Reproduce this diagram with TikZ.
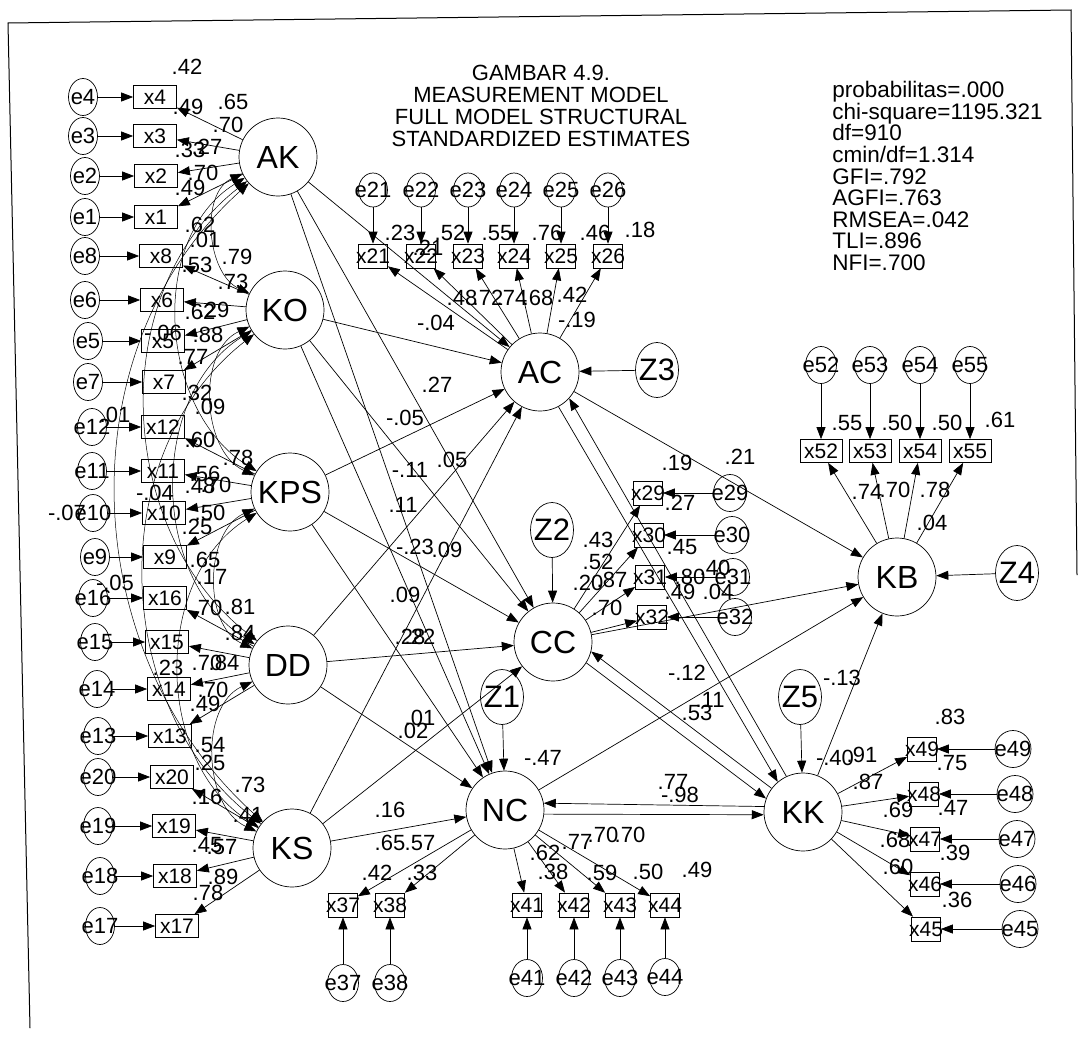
\documentclass[tikz,border=0pt]{standalone}
\usepackage{fontspec}
\setmainfont{Liberation Sans}
\usetikzlibrary{arrows.meta,shapes.geometric}
\newcommand{\ctr}[1]{\makebox[0pt]{#1}}
\newcommand{\fs}[1]{\fontsize{#1}{#1}\selectfont}

\begin{document}
\begin{tikzpicture}[x=1pt,y=1pt,line width=0.7pt,
    lat/.style={circle,draw,minimum size=78pt,inner sep=0pt,font=\fs{32}},
    dist/.style={ellipse,draw,minimum width=43pt,minimum height=55pt,inner sep=0pt,font=\fs{31}},
    obs/.style={rectangle,draw,minimum width=43pt,minimum height=23pt,inner sep=0pt,font=\fs{21}},
    sobs/.style={rectangle,draw,minimum width=29pt,minimum height=24pt,inner sep=0pt,font=\fs{21}},
    err/.style={ellipse,draw,minimum width=29pt,minimum height=37pt,inner sep=0pt,font=\fs{22}},
    pth/.style={-{Triangle[length=12pt,width=9pt]}},
    cov/.style={{Triangle[length=12pt,width=9pt]}-{Triangle[length=12pt,width=9pt]},line width=0.5pt},
    est/.style={inner sep=0pt,font=\fs{22}}]
    \useasboundingbox (0,0) rectangle (1081,-1036);
    % Frame
    \draw[line width=1pt] (30,-1028) -- (8,-23) -- (1071,-10) -- (1077,-575);
    \node[align=center,font=\fs{22},inner sep=0pt] (title) at (541,-106)
        {GAMBAR 4.9.\\MEASUREMENT MODEL\\FULL MODEL STRUCTURAL\\STANDARDIZED ESTIMATES};
    \node[align=left,font=\fontsize{22.5}{21.6}\selectfont,anchor=north west,inner sep=0pt] (fit) at (832,-81)
        {probabilitas=.000\\chi-square=1195.321\\df=910\\cmin/df=1.314\\GFI=.792\\AGFI=.763\\RMSEA=.042\\TLI=.896\\NFI=.700};
    % Latent variables
    \node[lat] (AK) at (278,-157) {AK};
    \node[lat] (KO) at (285,-310) {KO};
    \node[lat] (KPS) at (290,-492) {KPS};
    \node[lat] (DD) at (288,-665) {DD};
    \node[lat] (KS) at (292,-848) {KS};
    \node[lat] (AC) at (540,-372) {AC};
    \node[lat] (CC) at (553,-642) {CC};
    \node[lat] (NC) at (505,-810) {NC};
    \node[lat] (KB) at (897,-577) {KB};
    \node[lat] (KK) at (803,-812) {KK};
    \node[dist] (Z3) at (657,-370) {\ctr{Z3}};
    \node[dist] (Z2) at (552,-530) {\ctr{Z2}};
    \node[dist] (Z1) at (502,-697) {\ctr{Z1}};
    \node[dist] (Z4) at (1017,-573) {\ctr{Z4}};
    \node[dist] (Z5) at (800,-697) {\ctr{Z5}};
    % Indicators, left
    \foreach \n/\ex/\xx/\y in {4/83/155/97, 3/83/155/136, 2/85/156/176, 1/85/156/217,
        8/85/161/256, 6/85/162/300, 5/88/163/341, 7/88/164/382,
        12/92/163/427, 11/92/163/471, 10/93/164/513, 9/95/165/557,
        16/93/165/598, 15/95/167/642, 14/97/169/689, 13/98/170/736,
        20/98/172/777, 19/98/174/826, 18/100/175/876, 17/100/177/926}{
        \node[err] (e\n) at (\ex,-\y) {\ctr{e\n}};
        \node[obs] (x\n) at (\xx,-\y) {x\n};
        \draw[pth] (e\n) -- (x\n);
    }
    \foreach \n in {4,3,2,1} \draw[pth] (AK) -- (x\n);
    \foreach \n in {8,6,5,7} \draw[pth] (KO) -- (x\n);
    \foreach \n in {12,11,10,9} \draw[pth] (KPS) -- (x\n);
    \foreach \n in {16,15,14,13} \draw[pth] (DD) -- (x\n);
    \foreach \n in {20,19,18,17} \draw[pth] (KS) -- (x\n);
    % Indicators of AC
    \foreach \n/\xx in {21/373, 22/421, 23/468, 24/514, 25/561, 26/608}{
        \node[err,minimum height=34pt] (e\n) at (\xx,-190) {\ctr{e\n}};
        \node[sobs] (x\n) at (\xx,-256) {\ctr{x\n}};
        \draw[pth] (e\n) -- (x\n);
        \draw[pth] (AC) -- (x\n);
    }
    % Indicators of CC
    \foreach \n/\xx/\ex/\y in {29/648/730/493, 30/649/732/535, 31/650/733/577, 32/652/735/617}{
        \node[sobs] (x\n) at (\xx,-\y) {\ctr{x\n}};
        \node[err,minimum width=33pt] (e\n) at (\ex,-\y) {\ctr{e\n}};
        \draw[pth] (e\n) -- (x\n);
        \draw[pth] (CC) -- (x\n);
    }
    % Indicators of KB
    \foreach \n/\xx in {52/821, 53/870, 54/920, 55/970}{
        \node[err,minimum width=31pt] (e\n) at (\xx,-365) {\ctr{e\n}};
        \node[obs,minimum width=42pt] (x\n) at (\xx,-451) {x\n};
        \draw[pth] (e\n) -- (x\n);
        \draw[pth] (KB) -- (x\n);
    }
    % Indicators of KK
    \foreach \n/\xx/\ex/\y in {49/922/1013/749, 48/924/1015/794, 47/925/1017/839, 46/925/1018/884, 45/926/1020/929}{
        \node[sobs] (x\n) at (\xx,-\y) {\ctr{x\n}};
        \node[err,minimum width=36pt] (e\n) at (\ex,-\y) {\ctr{e\n}};
        \draw[pth] (e\n) -- (x\n);
        \draw[pth] (KK) -- (x\n);
    }
    % Indicators of NC
    \foreach \n/\xx/\ey in {37/343/983, 38/390/983, 41/527/978, 42/574/978, 43/620/978, 44/665/977}{
        \node[sobs] (x\n) at (\xx,-905) {\ctr{x\n}};
        \node[err,minimum width=31pt] (e\n) at (\xx,-\ey) {\ctr{e\n}};
        \draw[pth] (e\n) -- (x\n);
        \draw[pth] (NC) -- (x\n);
    }
    % Structural paths
    \foreach \s in {AK,KO,KPS,DD,KS}{
        \foreach \t in {AC,CC,NC} \draw[pth] (\s) -- (\t);
    }
    \draw[pth] (Z3) -- (AC);
    \draw[pth] (Z2) -- (CC);
    \draw[pth] (Z1) -- (NC);
    \draw[pth] (Z4) -- (KB);
    \draw[pth] (Z5) -- (KK);
    \foreach \s in {AC,CC,NC,KK} \draw[pth] (\s) -- (KB);
    \draw[pth] (AC.-62) -- (KK.130);
    \draw[pth] (KK.115) -- (AC.-42);
    \draw[pth] (CC.-32) -- (KK.160);
    \draw[pth] (KK.143) -- (CC.-14);
    \draw[pth] (NC.-6) -- (KK.184);
    \draw[pth] (KK.172) -- (NC.10);
    % Covariances
    \draw[cov] (AK) to[out=205,in=155] (KO);
    \draw[cov] (KO) to[out=205,in=155] (KPS);
    \draw[cov] (KPS) to[out=205,in=155] (DD);
    \draw[cov] (DD) to[out=205,in=155] (KS);
    \draw[cov] (AK) to[out=212,in=148] (KPS);
    \draw[cov] (KO) to[out=212,in=148] (DD);
    \draw[cov] (KPS) to[out=212,in=148] (KS);
    \draw[cov] (AK) to[out=218,in=142] (DD);
    \draw[cov] (KO) to[out=218,in=142] (KS);
    \draw[cov] (AK) to[out=222,in=138] (KS);
    % Estimates
    \foreach \x/\y/\lb [count=\i] in {187/67/.42, 188/107/.49, 233/102/.65, 228/125/.70, 190/150/.33,
        207/147/.27, 203/173/.70, 190/188/.49, 200/225/.62, 205/240/.01, 237/257/.79, 197/265/.53,
        233/282/.73, 200/312/.62, 214/310/.29, 163/333/-.06, 208/335/.88, 193/357/.77, 197/393/.32,
        210/407/.09, 115/415/.01, 200/440/.60, 238/458/.78, 205/474/.56, 200/486/.48, 216/485/.70,
        155/493/-.04, 67/513/-.07, 210/513/.50, 197/527/.25, 205/560/.65, 212/577/.17, 115/583/-.05,
        207/608/.70, 240/607/.81, 240/633/.84, 207/663/.70, 224/663/.84, 168/668/.23, 213/690/.70,
        205/704/.49, 210/745/.54, 210/763/.25, 250/785/.73, 207/797/.16, 248/815/.41, 207/845/.45,
        222/847/.57, 223/877/.89, 208/893/.78}
        \node[est] (l\i) at (\x,-\y) {\lb};
    \foreach \x/\y/\lb [count=\i] in {400/233/.23, 450/233/.52, 497/233/.55, 547/233/.76, 595/233/.46,
        640/230/.18, 428/248/.21, 462/298/.48, 488/298/.72, 512/298/.74, 538/298/.68, 572/295/.42,
        436/323/-.04, 577/320/-.19, 437/385/.27, 405/418/-.05, 410/470/-.11, 452/460/.05,
        403/505/.11, 415/547/-.23, 447/550/.09, 405/595/.09, 410/637/.28, 420/637/.22,
        420/718/.01, 413/731/.02, 390/810/.16, 543/758/-.47, 687/673/-.12, 710/700/.11,
        697/713/.53, 673/782/.77, 680/795/-.98, 842/678/-.13}
        \node[est] (m\i) at (\x,-\y) {\lb};
    \foreach \x/\y/\lb [count=\i] in {598/540/.43, 598/562/.52, 588/583/.20, 612/580/.87, 607/608/.70,
        677/463/.19, 740/457/.21, 680/503/.27, 682/547/.45, 715/568/.40, 690/577/.80, 680/592/.49,
        718/592/.04, 390/843/.65, 420/843/.57, 377/873/.42, 422/873/.33, 545/853/.62, 577/842/.77,
        603/835/.70, 630/835/.70, 553/872/.38, 602/873/.59, 648/872/.50, 697/870/.49,
        847/423/.55, 897/423/.50, 947/423/.50, 1000/420/.61, 867/492/.74, 895/490/.70, 935/490/.78,
        932/523/.04, 835/758/-.40, 862/755/.91, 868/782/.87, 898/810/.69, 895/840/.68, 898/867/.60,
        950/717/.83, 952/763/.75, 953/808/.47, 955/853/.39, 957/900/.36}
        \node[est] (r\i) at (\x,-\y) {\lb};
\end{tikzpicture}
\end{document}
